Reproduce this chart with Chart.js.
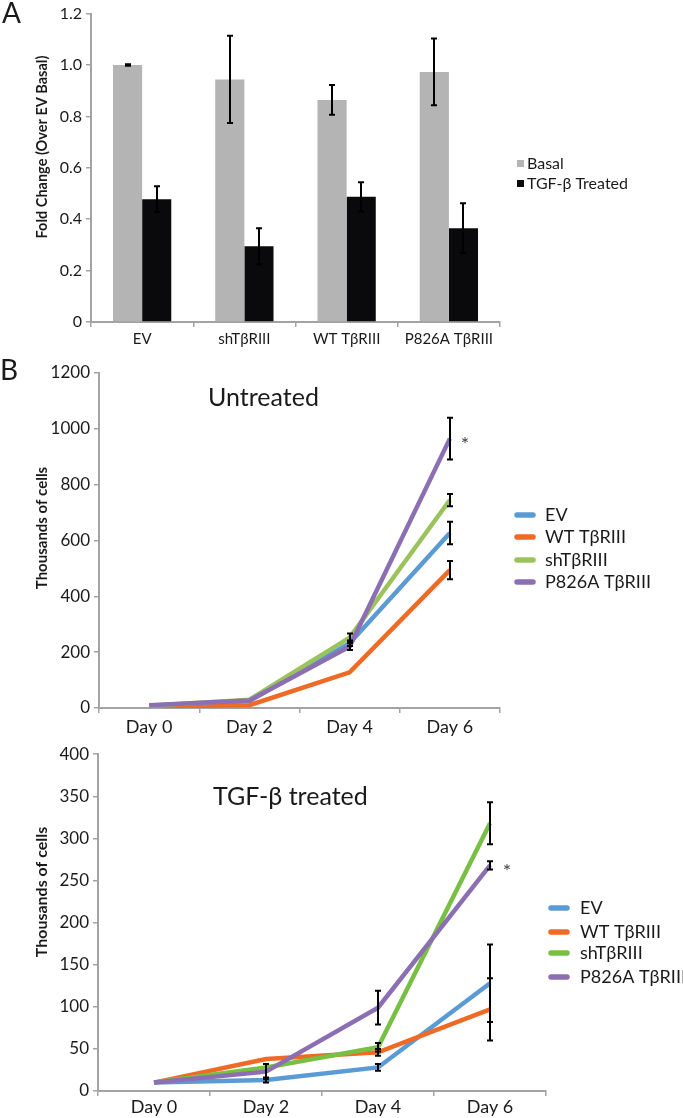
<!DOCTYPE html>
<html><head><meta charset="utf-8">
<script src="https://cdn.jsdelivr.net/npm/chart.js@4.4.1/dist/chart.umd.min.js"></script>
<style>
html,body{margin:0;padding:0;background:#fff;width:683px;height:1118px;overflow:hidden;}
canvas{position:absolute;left:0;}
</style></head><body>
<canvas id="chartA" width="683" height="350" style="top:0px"></canvas>
<canvas id="chartB" width="683" height="390" style="top:350px"></canvas>
<canvas id="chartC" width="683" height="378" style="top:740px"></canvas>
<script>
// ---------- Panel A data ----------
const barCategories = ['EV', 'shTβRIII', 'WT TβRIII', 'P826A TβRIII'];
const barSeriesNames = ['Basal', 'TGF-β Treated'];
const basalValues = [1.0, 0.944, 0.864, 0.973];
const basalErrors = [0.003, 0.17, 0.058, 0.13];
const treatedValues = [0.478, 0.295, 0.487, 0.365];
const treatedErrors = [0.05, 0.07, 0.057, 0.097];
const barYTicks = [0, 0.2, 0.4, 0.6, 0.8, 1.0, 1.2];

// ---------- Panel B / C data ----------
const dayLabels = ['Day 0', 'Day 2', 'Day 4', 'Day 6'];
const lineSeriesNames = ['EV', 'WT TβRIII', 'shTβRIII', 'P826A TβRIII'];

const untreatedEV = [7, 25, 232, 627];
const untreatedWT = [5, 10, 128, 494];
const untreatedSh = [8, 30, 252, 745];
const untreatedP826A = [10, 27, 220, 965];
const untreatedEVErr = [0, 0, 10, 40];
const untreatedWTErr = [0, 0, 0, 33];
const untreatedShErr = [0, 0, 15, 22];
const untreatedP826AErr = [0, 0, 12, 75];
const untreatedYTicks = [0, 200, 400, 600, 800, 1000, 1200];

const treatedEV = [10, 13, 28, 128];
const treatedWT = [10, 38, 46, 97];
const treatedSh = [10, 28, 52, 318];
const treatedP826A = [10, 23, 99, 268];
const treatedEVErr = [0, 3, 4, 46];
const treatedWTErr = [0, 0, 4, 37];
const treatedShErr = [0, 0, 5, 25];
const treatedP826AErr = [0, 9, 20, 5];
const treatedYTicks = [0, 50, 100, 150, 200, 250, 300, 350, 400];

// ---------- styling ----------
const FONT = "Lato, 'Open Sans', 'DejaVu Sans', sans-serif";
Chart.defaults.font.family = FONT;
Chart.defaults.color = '#1a1a1a';
const AXIS = '#a3a3a3';
const C_EV = '#5B9BD5', C_WT = '#EF6A24', C_P = '#8B6FB2';

function drawErrorBars(chart, capHalf) {
  const ctx = chart.ctx, ys = chart.scales.y;
  ctx.save();
  ctx.strokeStyle = '#000';
  ctx.lineWidth = 2;
  chart.data.datasets.forEach((ds, di) => {
    if (!ds.errors) return;
    const meta = chart.getDatasetMeta(di);
    meta.data.forEach((el, i) => {
      const e = ds.errors[i];
      if (!e) return;
      const v = ds.data[i];
      const x = Math.round(el.x);
      const yt = ys.getPixelForValue(v + e), yb = ys.getPixelForValue(v - e);
      ctx.beginPath();
      ctx.moveTo(x, yt); ctx.lineTo(x, yb);
      ctx.moveTo(x - capHalf, yt); ctx.lineTo(x + capHalf, yt);
      ctx.moveTo(x - capHalf, yb); ctx.lineTo(x + capHalf, yb);
      ctx.stroke();
    });
  });
  ctx.restore();
}

function text(ctx, s, x, y, font, color, align, rot) {
  ctx.save();
  ctx.font = font; ctx.fillStyle = color || '#1a1a1a';
  ctx.textAlign = align || 'left'; ctx.textBaseline = 'middle';
  ctx.translate(x, y);
  if (rot) ctx.rotate(rot);
  ctx.fillText(s, 0, 0);
  ctx.restore();
}

function lineLegend(ctx, names, colors, x1, x2, tx, ys, font) {
  ctx.save();
  names.forEach((n, i) => {
    ctx.strokeStyle = colors[i]; ctx.lineWidth = 5.5; ctx.lineCap = 'round';
    ctx.beginPath(); ctx.moveTo(x1, ys[i]); ctx.lineTo(x2, ys[i]); ctx.stroke();
    text(ctx, n, tx, ys[i], font, '#1a1a1a', 'left');
  });
  ctx.restore();
}

function makeScales(area, canvasH, yTicks, yMax, tickFont, xFont, fmt, xPad) {
  return {
    x: {
      offset: true,
      grid: { display: true, offset: true, drawOnChartArea: false, drawTicks: true, tickLength: 5, color: AXIS, lineWidth: 1.5 },
      border: { display: true, color: AXIS, width: 2 },
      ticks: { font: xFont, color: '#1a1a1a', padding: xPad, maxRotation: 0, autoSkip: false },
      afterFit: s => { s.height = canvasH - area.bottom; }
    },
    y: {
      min: 0, max: yMax,
      grid: { display: true, drawOnChartArea: false, drawTicks: true, tickLength: 5, color: AXIS, lineWidth: 1.5 },
      border: { display: true, color: AXIS, width: 2 },
      ticks: { font: tickFont, color: '#1a1a1a', padding: 4, callback: fmt },
      afterBuildTicks: s => { s.ticks = yTicks.map(v => ({ value: v })); },
      afterFit: s => { s.width = area.left; }
    }
  };
}

// ---------- Panel A ----------
const areaA = { left: 91, right: 500, top: 9, bottom: 322 };
new Chart(document.getElementById('chartA'), {
  type: 'bar',
  data: {
    labels: barCategories,
    datasets: [
      { label: barSeriesNames[0], data: basalValues, errors: basalErrors, backgroundColor: '#b4b4b4', categoryPercentage: 0.57, barPercentage: 1.0 },
      { label: barSeriesNames[1], data: treatedValues, errors: treatedErrors, backgroundColor: '#0a0a0c', categoryPercentage: 0.57, barPercentage: 1.0 }
    ]
  },
  options: {
    responsive: false, animation: false, devicePixelRatio: 1,
    layout: { padding: { left: 0, top: areaA.top, right: 683 - areaA.right, bottom: 0 } },
    plugins: { legend: { display: false }, tooltip: { enabled: false } },
    scales: makeScales(areaA, 350, barYTicks, 1.2,
      { size: 16, family: FONT }, { size: 15, family: FONT },
      v => v === 0 ? '0' : Number(v).toFixed(1), 3)
  },
  plugins: [{
    id: 'extrasA',
    afterDatasetsDraw(chart) { drawErrorBars(chart, 3); },
    afterDraw(chart) {
      const ctx = chart.ctx;
      text(ctx, 'A', 2, 14, '28px ' + FONT, '#1a1a1a', 'left');
      text(ctx, 'Fold Change (Over EV Basal)', 42, 147, 'bold 14.5px ' + FONT, '#1a1a1a', 'center', -Math.PI / 2);
      ctx.fillStyle = '#b4b4b4'; ctx.fillRect(517, 160, 7, 7);
      ctx.fillStyle = '#0a0a0c'; ctx.fillRect(517, 180, 7, 7);
      text(ctx, barSeriesNames[0], 527, 164, '16px ' + FONT, '#1a1a1a', 'left');
      text(ctx, barSeriesNames[1], 527, 184, '16px ' + FONT, '#1a1a1a', 'left');
    }
  }]
});

// ---------- Panel B ----------
const areaB = { left: 99, right: 500, top: 23, bottom: 358 };
const lineDs = (label, data, errors, color, order) => ({
  label, data, errors, borderColor: color, backgroundColor: color, borderWidth: 4.5,
  pointRadius: 0, tension: 0, fill: false, order
});
new Chart(document.getElementById('chartB'), {
  type: 'line',
  data: {
    labels: dayLabels,
    datasets: [
      lineDs(lineSeriesNames[0], untreatedEV, untreatedEVErr, C_EV, 4),
      lineDs(lineSeriesNames[1], untreatedWT, untreatedWTErr, C_WT, 3),
      lineDs(lineSeriesNames[2], untreatedSh, untreatedShErr, '#9CC25C', 2),
      lineDs(lineSeriesNames[3], untreatedP826A, untreatedP826AErr, C_P, 1)
    ]
  },
  options: {
    responsive: false, animation: false, devicePixelRatio: 1,
    layout: { padding: { left: 0, top: areaB.top, right: 683 - areaB.right, bottom: 0 } },
    plugins: { legend: { display: false }, tooltip: { enabled: false } },
    scales: makeScales(areaB, 390, untreatedYTicks, 1200,
      { size: 17, family: FONT }, { size: 18, family: FONT }, v => String(v), 3)
  },
  plugins: [{
    id: 'extrasB',
    afterDatasetsDraw(chart) { drawErrorBars(chart, 3); },
    afterDraw(chart) {
      const ctx = chart.ctx;
      text(ctx, 'B', 0, 21, '28px ' + FONT, '#1a1a1a', 'left');
      text(ctx, 'Untreated', 208, 48, '25px ' + FONT, '#1a1a1a', 'left');
      text(ctx, 'Thousands of cells', 42, 178, 'bold 15px ' + FONT, '#1a1a1a', 'center', -Math.PI / 2);
      const pm = chart.getDatasetMeta(3).data[3];
      text(ctx, '*', pm.x + 15, pm.y + 6, '20px ' + FONT, '#444', 'center');
      lineLegend(ctx, lineSeriesNames, [C_EV, C_WT, '#9CC25C', C_P], 517, 533, 545, [165, 187, 210, 232], '18px ' + FONT);
    }
  }]
});

// ---------- Panel C ----------
const areaC = { left: 98, right: 546, top: 9, bottom: 351 };
new Chart(document.getElementById('chartC'), {
  type: 'line',
  data: {
    labels: dayLabels,
    datasets: [
      lineDs(lineSeriesNames[0], treatedEV, treatedEVErr, C_EV, 4),
      lineDs(lineSeriesNames[1], treatedWT, treatedWTErr, C_WT, 3),
      lineDs(lineSeriesNames[2], treatedSh, treatedShErr, '#78C043', 2),
      lineDs(lineSeriesNames[3], treatedP826A, treatedP826AErr, C_P, 1)
    ]
  },
  options: {
    responsive: false, animation: false, devicePixelRatio: 1,
    layout: { padding: { left: 0, top: areaC.top, right: 683 - areaC.right, bottom: 0 } },
    plugins: { legend: { display: false }, tooltip: { enabled: false } },
    scales: makeScales(areaC, 378, treatedYTicks, 400,
      { size: 17, family: FONT }, { size: 18, family: FONT }, v => String(v), 0)
  },
  plugins: [{
    id: 'extrasC',
    afterDatasetsDraw(chart) { drawErrorBars(chart, 3); },
    afterDraw(chart) {
      const ctx = chart.ctx;
      text(ctx, 'TGF-β treated', 213, 57, '25px ' + FONT, '#1a1a1a', 'left');
      text(ctx, 'Thousands of cells', 42, 152, 'bold 16px ' + FONT, '#1a1a1a', 'center', -Math.PI / 2);
      const pm = chart.getDatasetMeta(3).data[3];
      text(ctx, '*', pm.x + 17, pm.y + 6, '20px ' + FONT, '#444', 'center');
      lineLegend(ctx, lineSeriesNames, [C_EV, C_WT, '#78C043', C_P], 551, 567, 580, [168, 192, 213, 237], '18px ' + FONT);
    }
  }]
});
</script>
</body></html>
